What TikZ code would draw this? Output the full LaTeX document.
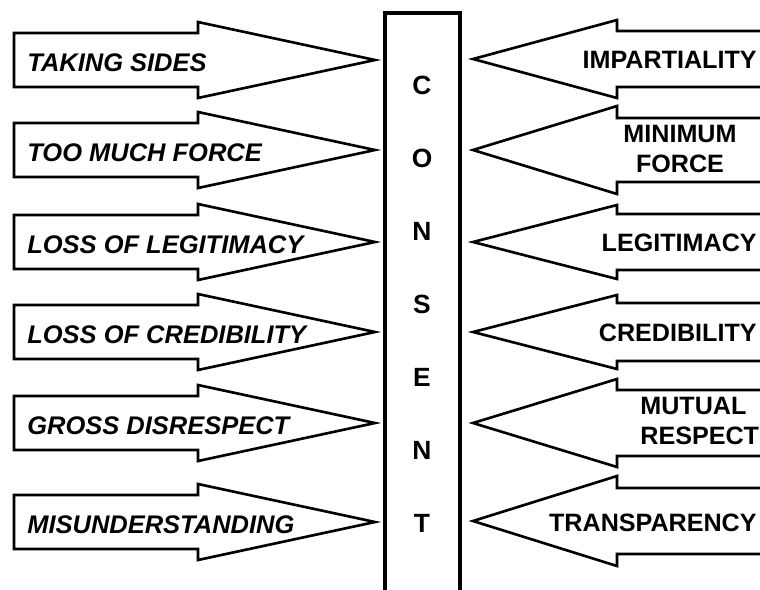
\documentclass[tikz,border=0pt]{standalone}
\usepackage{fontspec}
\setmainfont{Liberation Sans}
\usetikzlibrary{positioning}

\begin{document}
\begin{tikzpicture}[x=0.02cm, y=-0.02cm,
  blk/.style={draw=black, line width=1.5pt, miter limit=20, fill=white},
  bar/.style={draw=black, line width=1.9pt},
  cause/.style={font=\fontsize{14.5}{17.5}\selectfont\bfseries\itshape,
    anchor=west, inner sep=0pt},
  cure/.style={font=\fontsize{14.3}{17.5}\selectfont\bfseries,
    inner sep=0pt, align=center},
  letter/.style={font=\fontsize{15}{17.5}\selectfont\bfseries, inner sep=0pt}
]
  \clip (0,0) rectangle (760,589);
  \fill[white] (0,0) rectangle (760,589);

  \draw[bar] (385,13) rectangle (460,600);
  \foreach \ch [count=\i from 0] in {C,O,N,S,E,N,T}
    \node[letter] (letter\i) at (422,85+73*\i) {\ch};

  \foreach \ty/\txt [count=\i] in {60/TAKING SIDES, 150/TOO MUCH FORCE,
      242/LOSS OF LEGITIMACY, 332/LOSS OF CREDIBILITY,
      423/GROSS DISRESPECT, 522/MISUNDERSTANDING}{
    \coordinate (ltip\i) at (375,\ty);
    \draw[blk] (14,\ty-27) -- (198,\ty-27) -- (198,\ty-38) -- (ltip\i)
      -- (198,\ty+38) -- (198,\ty+27) -- (14,\ty+27) -- cycle;
    \node[cause] (cause\i) at (27,\ty+3) {\txt};
  }

  \foreach \ty/\sh/\hh [count=\i] in {59/28/39, 150/32/44, 242/28/37,
      332/29/37, 423/33/44, 521/33/45}{
    \coordinate (rtip\i) at (473,\ty);
    \draw[blk] (780,\ty-\sh) -- (617,\ty-\sh) -- (617,\ty-\hh) -- (rtip\i)
      -- (617,\ty+\hh) -- (617,\ty+\sh) -- (780,\ty+\sh);
  }

  \node[cure, anchor=east] (impart) at (757,60) {IMPARTIALITY};
  \node[cure] (minforce) at (680,149) {MINIMUM\\FORCE};
  \node[cure, anchor=east] (legit) at (757,243) {LEGITIMACY};
  \node[cure, anchor=east] (cred) at (757,333) {CREDIBILITY};
  \node[cure, align=left, anchor=west] (mutual) at (640,421) {MUTUAL\\RESPECT};
  \node[cure, anchor=east] (transp) at (757,523) {TRANSPARENCY};
\end{tikzpicture}
\end{document}
